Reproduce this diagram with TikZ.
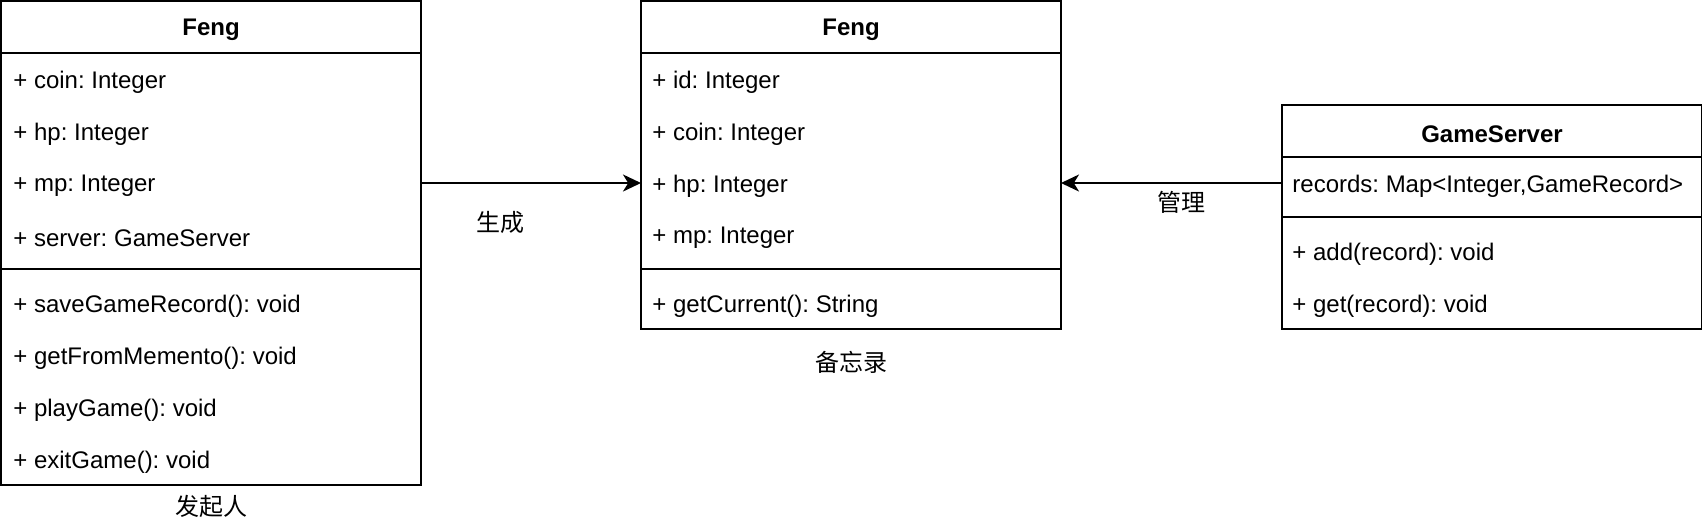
\documentclass[tikz,border=0pt]{standalone}
\usepackage{fontspec}
\setmainfont{Liberation Sans}
\newfontfamily\cjk{Noto Sans CJK SC}
\usetikzlibrary{arrows.meta}
\frenchspacing
\begin{document}
\begin{tikzpicture}[x=0.5pt,y=-0.5pt,
  cls/.style={draw=black,line width=1.1pt,minimum width=210pt,anchor=north west,inner sep=0pt,outer sep=0pt},
  sepline/.style={line width=1.1pt},
  row/.style={anchor=west,inner sep=0pt,yshift=-1.4pt,font=\fontsize{12}{14}\selectfont\frenchspacing},
  title/.style={inner sep=0pt,yshift=-1.6pt,font=\fontsize{12}{14}\selectfont\bfseries},
  lab/.style={inner sep=0pt,font=\fontsize{12}{14}\selectfont\cjk},
  arr/.style={line width=1.1pt,-{Stealth[length=9pt,width=8.5pt,inset=2.6pt]}}]
\useasboundingbox (0,0) rectangle (1702,526);

% Originator
\node[cls,minimum height=242pt] (orig) at (1,1) {};
\draw[sepline] (1,53) -- (421,53);
\draw[sepline] (1,269) -- (421,269);
\node[title] (o-t) at (211,27) {Feng};
\node[row] (o-a1) at (13,79) {+ coin: Integer};
\node[row] (o-a2) at (13,131) {+ hp: Integer};
\node[row] (o-a3) at (13,183) {+ mp: Integer};
\node[row] (o-a4) at (13,235) {+ server: GameServer};
\node[row] (o-m1) at (13,303) {+ saveGameRecord(): void};
\node[row] (o-m2) at (13,355) {+ getFromMemento(): void};
\node[row] (o-m3) at (13,407) {+ playGame(): void};
\node[row] (o-m4) at (13,459) {+ exitGame(): void};
\node[lab] (o-lab) at (211,506) {发起人};

% Memento
\node[cls,minimum height=164pt] (memo) at (641,1) {};
\draw[sepline] (641,53) -- (1061,53);
\draw[sepline] (641,269) -- (1061,269);
\node[title] (m-t) at (851,27) {Feng};
\node[row] (m-a1) at (652,79) {+ id: Integer};
\node[row] (m-a2) at (652,131) {+ coin: Integer};
\node[row] (m-a3) at (652,183) {+ hp: Integer};
\node[row] (m-a4) at (652,235) {+ mp: Integer};
\node[row] (m-m1) at (652,303) {+ getCurrent(): String};
\node[lab] (m-lab) at (851,362) {备忘录};

% GameServer
\node[cls,minimum height=112pt] (gs) at (1282,105) {};
\draw[sepline] (1282,157) -- (1702,157);
\draw[sepline] (1282,217) -- (1702,217);
\node[title] (g-t) at (1492,131) {GameServer};
\node[row] (g-a1) at (1292,183) {records: Map<Integer,GameRecord>};
\node[row] (g-m1) at (1292,251) {+ add(record): void};
\node[row] (g-m2) at (1292,303) {+ get(record): void};

% connectors
\coordinate (y1) at (0,183);
\draw[arr] (orig.east |- y1) -- (memo.west |- y1);
\node[lab] (l1) at (500,222) {生成};
\draw[arr] (gs.west |- y1) -- (memo.east |- y1);
\node[lab] (l2) at (1181,202) {管理};
\end{tikzpicture}
\end{document}
